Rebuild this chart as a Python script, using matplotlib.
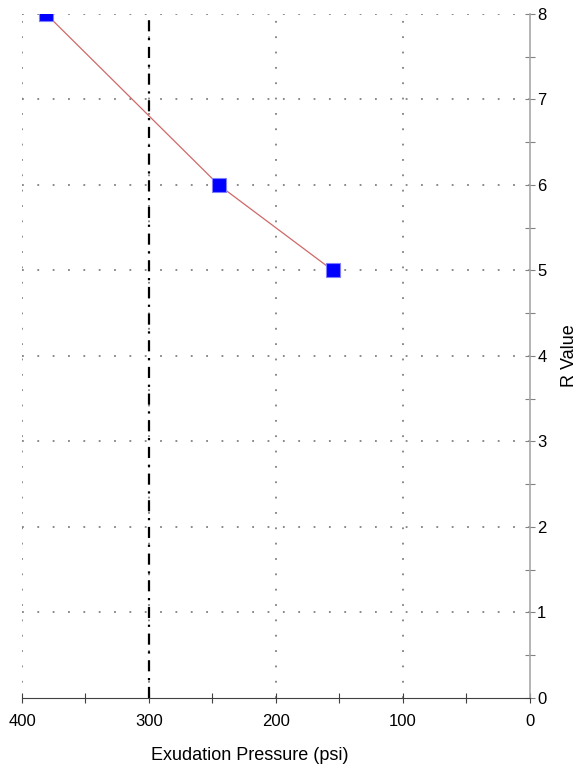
import matplotlib.pyplot as plt
from matplotlib.ticker import MultipleLocator

plt.rcParams['font.family'] = ['Liberation Sans', 'DejaVu Sans']

# exudation pressure (psi) vs R value
pressure = [381, 245, 155]
r_value = [8, 6, 5]
ref_pressure = 300

fig = plt.figure(figsize=(5.8, 7.72), dpi=100)
ax = fig.add_axes([0.038, 0.0959, 0.875, 0.886])

ax.plot(pressure, r_value, color='#d06868', lw=0.9, zorder=3)
ax.plot(pressure, r_value, ls='none', marker='s', ms=10, mfc='#0000ff',
        mec='#7f7fff', mew=0.8, zorder=4)
ax.axvline(ref_pressure, color='black', lw=1.6, ls=(0, (5, 3, 1, 3)), zorder=2)

ax.set_xlim(400, 0)
ax.set_ylim(0, 8)

# dotted grid
for x in [400, 300, 200, 100]:
    ax.axvline(x, color='#808080', lw=1.3, ls=(0, (1, 7.5)), zorder=1)
for y in range(1, 9):
    ax.axhline(y, color='#808080', lw=1.3, ls=(0, (1, 7.5)), zorder=1)

ax.spines['left'].set_visible(False)
ax.spines['top'].set_visible(False)
ax.spines['bottom'].set_color('#404040')
ax.spines['right'].set_color('#a8a8a8')
ax.spines['right'].set_linewidth(1.2)

ax.xaxis.set_major_locator(MultipleLocator(100))
ax.xaxis.set_minor_locator(MultipleLocator(50))
ax.yaxis.set_major_locator(MultipleLocator(1))
ax.yaxis.set_minor_locator(MultipleLocator(0.5))
ax.yaxis.tick_right()
ax.yaxis.set_label_position('right')

ax.tick_params(axis='x', which='both', direction='inout', length=7, width=0.8,
               color='#404040', labelsize=12, pad=8)
ax.tick_params(axis='y', which='both', direction='inout', length=7, width=0.8,
               color='#808080', labelsize=12, pad=2)

ax.set_xlabel('Exudation Pressure (psi)', fontsize=13)
ax.xaxis.set_label_coords(0.449, -0.072)
ax.set_ylabel('R Value', fontsize=13)
ax.yaxis.set_label_coords(1.062, 0.5)

fig.savefig('out.png', dpi=100)
